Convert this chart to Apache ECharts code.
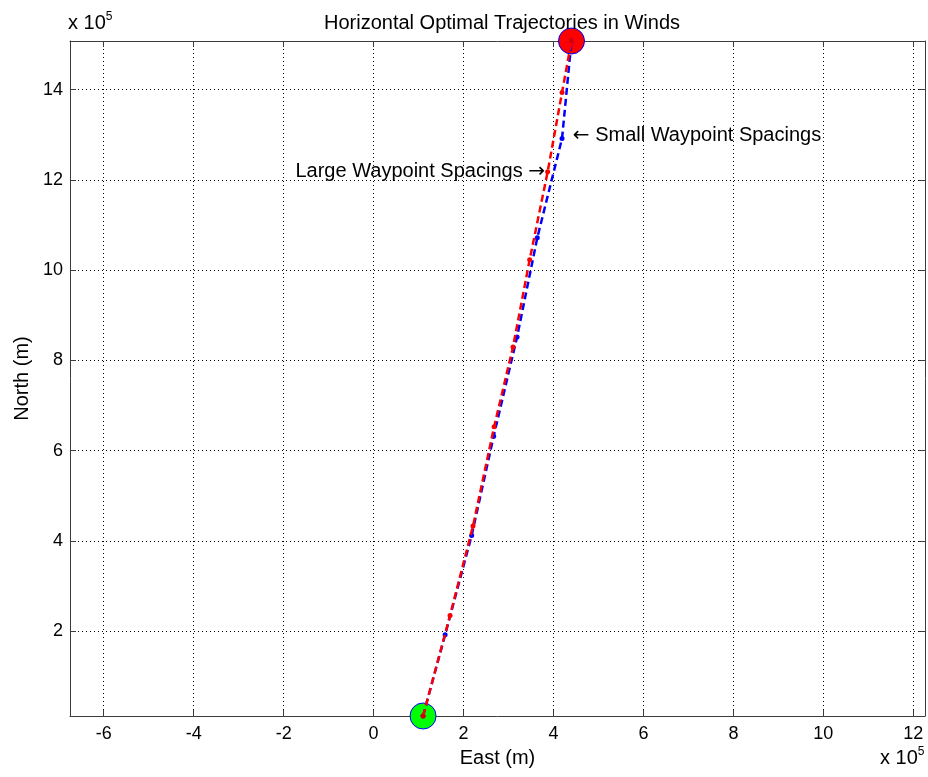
<!DOCTYPE html>
<html>
<head>
<meta charset="utf-8">
<script src="https://cdn.jsdelivr.net/npm/echarts@6/dist/echarts.min.js"></script>
<style>html,body{margin:0;padding:0;background:#fff;}#c{width:928px;height:777px;}</style>
</head>
<body>
<div id="c"></div>
<script>
// Values in metres
const SCALE = 1e5;
const largeEast  = [1.10, 1.70, 2.21, 2.68, 3.10, 3.47, 3.87, 4.19, 4.40].map(v => v * SCALE);
const largeNorth = [0.12, 2.35, 4.33, 6.53, 8.30, 10.23, 12.18, 13.94, 15.08].map(v => v * SCALE);
const smallEast  = [1.10, 1.59, 2.18, 2.67, 3.19, 3.64, 4.19, 4.40].map(v => v * SCALE);
const smallNorth = [0.12, 1.92, 4.12, 6.32, 8.52, 10.72, 12.92, 15.08].map(v => v * SCALE);
const startPoint = [1.10 * SCALE, 0.12 * SCALE];
const endPoint   = [4.40 * SCALE, 15.08 * SCALE];
const xTicks = [-6, -4, -2, 0, 2, 4, 6, 8, 10, 12].map(v => v * SCALE);
const yTicks = [2, 4, 6, 8, 10, 12, 14].map(v => v * SCALE);
const xRange = [-6.75 * SCALE, 12.26 * SCALE];
const yRange = [0.12 * SCALE, 15.08 * SCALE];
const annotSmall = { pos: [4.43 * SCALE, 12.98 * SCALE], text: '{arr|\u2190} Small Waypoint Spacings' };
const annotLarge = { pos: [3.81 * SCALE, 12.18 * SCALE], text: 'Large Waypoint Spacings {arr|\u2192}' };

const zip = (a, b) => a.map((v, i) => [v, b[i]]);
const FONT = 'Liberation Sans, Arial, sans-serif';

function axisBase(ticks, show, margin) {
  return {
    axisLine: { show: true, onZero: false, lineStyle: { color: '#3c3c3c', width: 1 } },
    axisTick: { show: true, inside: true, length: 6, customValues: ticks, lineStyle: { color: '#3c3c3c' } },
    axisLabel: show ? { show: true, customValues: ticks, color: '#000', fontSize: 18, fontFamily: FONT, margin: margin,
      formatter: v => String(Math.round(v / SCALE)) } : { show: false },
    splitLine: show ? { show: true, lineStyle: { color: '#000', width: 1, type: [1, 3] } } : { show: false }
  };
}

const supText = {
  a: { fontFamily: FONT, fontSize: 20, color: '#000' },
  b: { fontFamily: FONT, fontSize: 12, color: '#000', verticalAlign: 'top', padding: [0, 0, 12, 0] }
};
const arrRich = { arr: { fontFamily: 'DejaVu Sans', fontSize: 20, color: '#000' } };

const chart = echarts.init(document.getElementById('c'), null, { renderer: 'canvas' });
chart.setOption({
  animation: false,
  backgroundColor: '#fff',
  title: {
    text: 'Horizontal Optimal Trajectories in Winds',
    left: 497, top: 8, textAlign: 'center',
    textStyle: { fontFamily: FONT, fontSize: 20, fontWeight: 'normal', color: '#000' }
  },
  grid: { left: 70, right: 3, top: 41, bottom: 61, containLabel: false },
  xAxis: [
    Object.assign({ type: 'value', position: 'bottom', min: xRange[0], max: xRange[1],
      name: 'East (m)', nameLocation: 'middle', nameGap: 32,
      nameTextStyle: { fontFamily: FONT, fontSize: 20, color: '#000' } }, axisBase(xTicks, true, 9)),
    Object.assign({ type: 'value', position: 'top', min: xRange[0], max: xRange[1] }, axisBase(xTicks, false))
  ],
  yAxis: [
    Object.assign({ type: 'value', position: 'left', min: yRange[0], max: yRange[1],
      name: 'North (m)', nameLocation: 'middle', nameGap: 34,
      nameTextStyle: { fontFamily: FONT, fontSize: 20, color: '#000' } }, axisBase(yTicks, true, 7)),
    Object.assign({ type: 'value', position: 'right', min: yRange[0], max: yRange[1] }, axisBase(yTicks, false))
  ],
  graphic: [
    { type: 'text', left: 68, top: 11, style: { text: '{a|x 10}{b|5}', rich: supText } },
    { type: 'text', left: 880, top: 746, style: { text: '{a|x 10}{b|5}', rich: supText } }
  ],
  series: [
    {
      type: 'scatter', data: [startPoint], symbol: 'circle', symbolSize: 26, clip: false,
      itemStyle: { color: '#00ff00', borderColor: '#0000ff', borderWidth: 1, opacity: 1 }, z: 2
    },
    {
      type: 'scatter', data: [endPoint], symbol: 'circle', symbolSize: 26, clip: false,
      itemStyle: { color: '#ff0000', borderColor: '#0000ff', borderWidth: 1, opacity: 1 }, z: 2
    },
    {
      type: 'line', data: zip(smallEast, smallNorth), symbol: 'circle', symbolSize: 5,
      lineStyle: { color: '#0000ff', width: 2.5, type: [7, 4] },
      itemStyle: { color: '#0000ff' }, z: 3
    },
    {
      type: 'line', data: zip(largeEast, largeNorth), symbol: 'circle', symbolSize: 5,
      lineStyle: { color: '#ff0000', width: 2.5, type: [7, 4] },
      itemStyle: { color: '#ff0000' }, z: 4
    },
    {
      type: 'scatter', data: [startPoint, endPoint], symbol: 'circle', symbolSize: 4, clip: false,
      itemStyle: { color: '#cc0000', opacity: 1 }, z: 6
    },
    {
      type: 'scatter', data: [annotSmall.pos], symbolSize: 0, clip: false, silent: true,
      itemStyle: { opacity: 1 },
      label: { show: true, position: 'right', distance: 0, formatter: annotSmall.text, rich: arrRich,
        fontFamily: FONT, fontSize: 20, color: '#000', opacity: 1 }, z: 7
    },
    {
      type: 'scatter', data: [annotLarge.pos], symbolSize: 0, clip: false, silent: true,
      itemStyle: { opacity: 1 },
      label: { show: true, position: 'left', distance: 0, formatter: annotLarge.text, rich: arrRich,
        fontFamily: FONT, fontSize: 20, color: '#000', opacity: 1 }, z: 7
    }
  ]
});
</script>
</body>
</html>
